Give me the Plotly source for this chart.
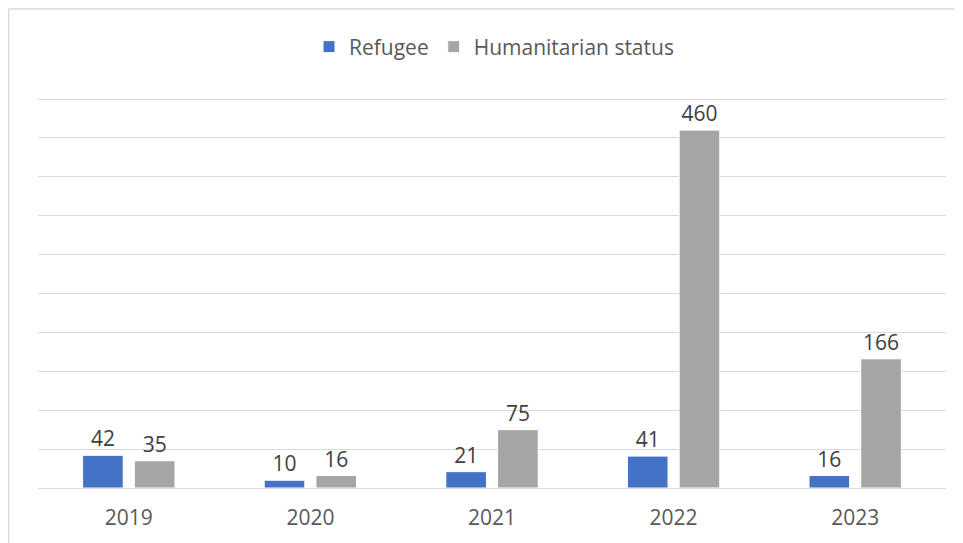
import plotly.graph_objects as go

# The page body has an 8px default margin; draw a figure that fills the rest.
OFF = 8
W, H = 963 - OFF, 543 - OFF

years = ["2019", "2020", "2021", "2022", "2023"]
refugee = [42, 10, 21, 41, 16]
humanitarian = [35, 16, 75, 460, 166]

FONT = "Open Sans"
YMAX = 510
PX_PER_UNIT = (488 - 99) / 500.0

def px(x):
    return (x - OFF) / W

def py(y):
    return 1 - (y - OFF) / H

fig = go.Figure()
fig.add_trace(go.Bar(
    name="Refugee", x=years, y=refugee,
    marker=dict(color="#4472C4", line=dict(color="white", width=1)),
    text=[str(v) for v in refugee], textposition="outside",
    textfont=dict(family=FONT, size=21, color="#404040"),
    cliponaxis=False,
))
fig.add_trace(go.Bar(
    name="Humanitarian status", x=years, y=humanitarian,
    marker=dict(color="#A5A5A5", line=dict(color="white", width=1)),
    text=[str(v) for v in humanitarian], textposition="outside",
    textfont=dict(family=FONT, size=21, color="#404040"),
    cliponaxis=False,
))

fig.update_layout(
    width=W, height=H,
    margin=dict(l=0, r=0, t=0, b=0),
    paper_bgcolor="white", plot_bgcolor="white",
    barmode="group", bargap=0.43, bargroupgap=0.215,
    font=dict(family=FONT, size=21, color="#595959"),
    showlegend=True,
    legend=dict(orientation="h", x=px(494), xanchor="center",
                y=py(47), yanchor="middle", itemwidth=30,
                font=dict(family=FONT, size=21, color="#595959"),
                traceorder="normal"),
    xaxis=dict(domain=[px(38), px(946)], showgrid=False,
               showline=True, linecolor="#D9D9D9", linewidth=1.3,
               ticks="", ticklabelstandoff=11,
               tickfont=dict(family=FONT, size=21, color="#595959")),
    yaxis=dict(domain=[py(488), py(488 - YMAX * PX_PER_UNIT)],
               range=[0, YMAX], dtick=50,
               showticklabels=False, showgrid=True,
               gridcolor="#D9D9D9", gridwidth=1.3, zeroline=False,
               showline=False),
    shapes=[
        dict(type="line", xref="paper", yref="paper",
             x0=px(8.7), x1=px(8.7), y0=py(9), y1=py(543),
             line=dict(color="#D9D9D9", width=1.3)),
        dict(type="line", xref="paper", yref="paper",
             x0=px(8.7), x1=px(963), y0=py(9), y1=py(9),
             line=dict(color="#D9D9D9", width=1.3)),
    ],
)

fig.write_html("out.html")
